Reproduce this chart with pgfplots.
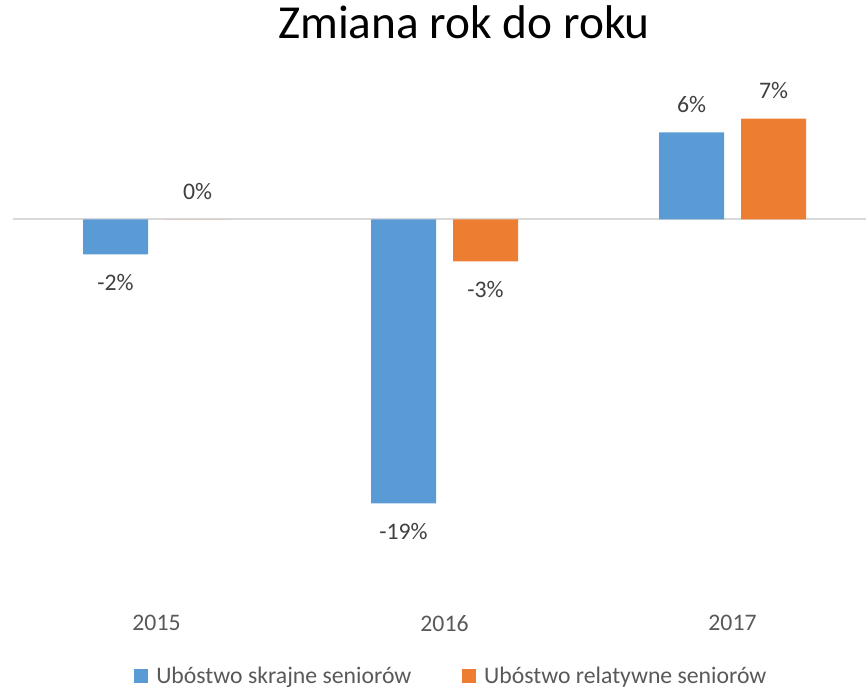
\documentclass[border=0pt]{standalone}
\usepackage{pgfplots}
\pgfplotsset{compat=1.18}
\usepackage{fontspec}
\setmainfont{Carlito}
\definecolor{xblue}{HTML}{5B9BD5}
\definecolor{xorange}{HTML}{ED7D31}
\definecolor{zline}{HTML}{D9D9D9}
\definecolor{ticktext}{HTML}{595959}
\definecolor{labtext}{HTML}{404040}
\begin{document}
\begin{tikzpicture}[x=1pt,y=1pt]
\useasboundingbox (0,0) rectangle (649.5,516);
\begin{axis}[
  at={(9.375pt,62.25pt)}, anchor=south west,
  scale only axis, width=640.125pt, height=393.75pt,
  xmin=-0.5, xmax=2.4635, ymin=-25.7, ymax=9.3,
  ybar=12.75pt, bar width=48.75pt,
  axis line style={draw=none},
  ytick=\empty,
  xtick={0,1,2}, xticklabels={2015,2016,2017},
  major tick length=0pt,
  xticklabel style={font=\fontsize{17.8}{21}\selectfont, text=ticktext, inner sep=0pt, anchor=north, yshift=-7.5pt},
  extra y ticks={0}, extra y tick labels={},
  extra y tick style={grid=major, major grid style={draw=zline, line width=1.5pt}},
  point meta=explicit symbolic,
  visualization depends on={rawy \as \rawy},
  nodes near coords,
  every node near coord/.append style={font=\fontsize{17.8}{21}\selectfont, text=labtext, inner xsep=0pt, inner ysep=14.5pt,
    /utils/exec={\ifdim\rawy pt<0pt\def\nnanchor{north}\else\def\nnanchor{south}\fi}, anchor=\nnanchor},
  legend columns=2,
  legend image code/.code={\fill[#1, draw=none] (0pt,-5.25pt) rectangle (10.5pt,5.25pt);},
  legend style={at={(axis description cs:0.513,-0.1352)}, anchor=center, draw=none, fill=none,
    inner sep=0pt, font=\fontsize{17.8}{21}\selectfont, text=ticktext,
    nodes={inner sep=0pt}, column sep=6pt,
    /tikz/every even column/.append style={column sep=38pt}},
  clip=false,
]
\addplot[fill=xblue, draw=none] coordinates {(0,-2.33) [-2\%] (1,-18.93) [-19\%] (2,5.8) [6\%]};
\addlegendentry{Ubóstwo skrajne seniorów}
\addplot[fill=xorange, draw=none] coordinates {(0,0) [0\%] (1,-2.8) [-3\%] (2,6.73) [7\%]};
\addlegendentry{Ubóstwo relatywne seniorów}
\end{axis}
\node[font=\fontsize{35.5}{42}\selectfont, anchor=base] at (348,486.75) {Zmiana rok do roku};
\end{tikzpicture}
\end{document}
